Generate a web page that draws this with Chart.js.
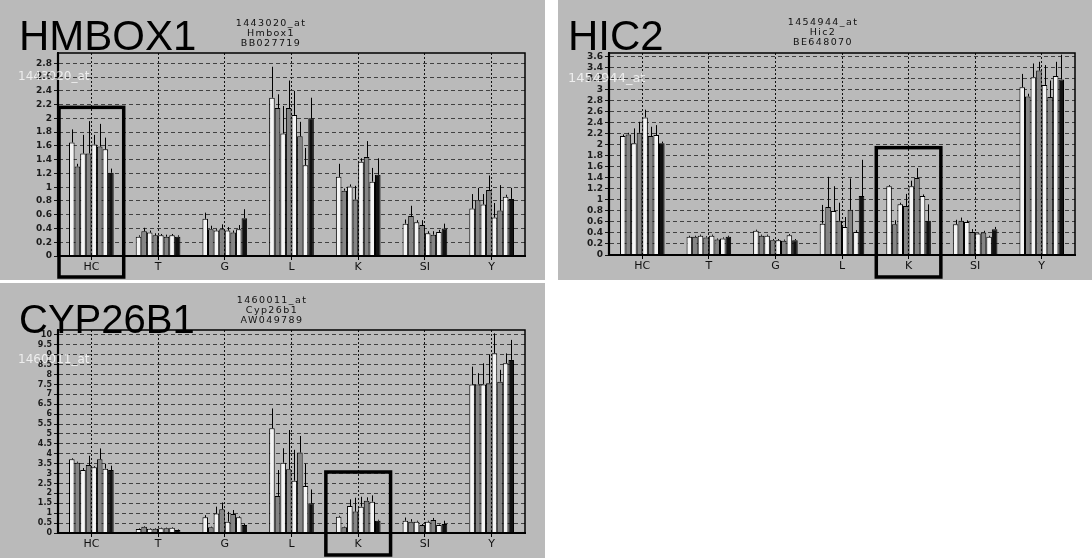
<!DOCTYPE html>
<html><head><meta charset="utf-8">
<script src="https://cdn.jsdelivr.net/npm/chart.js@4.4.1/dist/chart.umd.min.js"></script>
<style>
html,body{margin:0;padding:0;background:#fff;}
#wrap{position:relative;width:1092px;height:558px;overflow:hidden;background:#fff;}
.panel{position:absolute;background:#bababa;}
.panel canvas{position:absolute;left:0;top:0;}
.big{position:absolute;font-family:'Liberation Sans',Arial,sans-serif;font-size:42px;line-height:42px;color:#000;white-space:nowrap;}
.ttl{position:absolute;font-family:'DejaVu Sans',sans-serif;font-size:9.5px;line-height:10px;letter-spacing:1.4px;color:#111;text-align:center;white-space:nowrap;transform:translateX(-50%);}
.ghost{position:absolute;font-family:'DejaVu Sans',sans-serif;font-size:12px;color:rgba(255,255,255,0.75);white-space:nowrap;}
</style>
</head><body>
<div id="wrap">
  <div class="panel" id="p1" style="left:0;top:0;width:545px;height:280px;"><canvas id="c1" width="545" height="280"></canvas></div>
  <div class="panel" id="p2" style="left:558px;top:0;width:534px;height:280px;"><canvas id="c2" width="534" height="280"></canvas></div>
  <div class="panel" id="p3" style="left:0;top:283px;width:545px;height:275px;"><canvas id="c3" width="545" height="275"></canvas></div>

  <div class="ghost" style="left:18px;top:69px;">1443020_at</div>
  <div class="ghost" style="left:568px;top:70px;font-size:13px;">1454944_at</div>
  <div class="ghost" style="left:18px;top:352px;">1460011_at</div>

  <div class="big" style="left:19px;top:15px;">HMBOX1</div>
  <div class="big" style="left:568px;top:15px;">HIC2</div>
  <div class="big" style="left:19px;top:299px;font-size:40px;line-height:40px;">CYP26B1</div>

  <div class="ttl" style="left:271px;top:18px;">1443020_at<br>Hmbox1<br>BB027719</div>
  <div class="ttl" style="left:823px;top:17px;">1454944_at<br>Hic2<br>BE648070</div>
  <div class="ttl" style="left:272px;top:295px;">1460011_at<br>Cyp26b1<br>AW049789</div>
</div>
<script>
// ---------- data ----------
const categories = ['HC', 'T', 'G', 'L', 'K', 'SI', 'Y'];
const seriesColors = ['#f4f4f4', '#858585', '#f4f4f4', '#858585', '#f4f4f4', '#858585', '#f4f4f4', '#111111'];

// HMBOX1 (1443020_at): means per category (8 bars each), and error bar lengths
const hmbox1Means = [
  [1.65, 1.30, 1.49, 1.49, 1.62, 1.59, 1.55, 1.21],
  [0.28, 0.36, 0.34, 0.30, 0.30, 0.28, 0.30, 0.28],
  [0.54, 0.39, 0.37, 0.39, 0.37, 0.34, 0.39, 0.55],
  [2.30, 2.15, 1.78, 2.15, 2.05, 1.74, 1.32, 2.00],
  [1.15, 0.95, 1.01, 0.82, 1.37, 1.44, 1.08, 1.18],
  [0.47, 0.58, 0.49, 0.45, 0.33, 0.31, 0.35, 0.40],
  [0.69, 0.81, 0.75, 0.96, 0.56, 0.66, 0.86, 0.83]
];
const hmbox1Errs = [
  [0.19, 0.04, 0.27, 0.47, 0.14, 0.33, 0.17, 0.06],
  [0.02, 0.05, 0.03, 0.03, 0.02, 0.03, 0.02, 0.02],
  [0.09, 0.05, 0.02, 0.07, 0.05, 0.03, 0.06, 0.13],
  [0.45, 0.20, 0.40, 0.40, 0.35, 0.21, 0.25, 0.30],
  [0.19, 0.03, 0.03, 0.20, 0.05, 0.23, 0.20, 0.24],
  [0.06, 0.15, 0.03, 0.07, 0.03, 0.05, 0.03, 0.07],
  [0.21, 0.18, 0.15, 0.21, 0.21, 0.37, 0.03, 0.16]
];
const hmbox1Ticks = [0, 0.2, 0.4, 0.6, 0.8, 1, 1.2, 1.4, 1.6, 1.8, 2, 2.2, 2.4, 2.6, 2.8];

// HIC2 (1454944_at)
const hic2Means = [
  [2.16, 2.19, 2.03, 2.22, 2.50, 2.16, 2.18, 2.03],
  [0.33, 0.33, 0.35, 0.32, 0.35, 0.28, 0.30, 0.33],
  [0.44, 0.35, 0.35, 0.27, 0.27, 0.26, 0.36, 0.27],
  [0.57, 0.87, 0.80, 0.62, 0.51, 0.82, 0.42, 1.07],
  [1.25, 0.56, 0.92, 0.89, 1.25, 1.40, 1.07, 0.62],
  [0.56, 0.62, 0.60, 0.42, 0.39, 0.41, 0.33, 0.47],
  [3.05, 2.88, 3.23, 3.35, 3.09, 2.87, 3.25, 3.19]
];
const hic2Errs = [
  [0.03, 0.03, 0.27, 0.20, 0.14, 0.17, 0.18, 0.03],
  [0.02, 0.02, 0.02, 0.02, 0.02, 0.02, 0.02, 0.02],
  [0.02, 0.02, 0.02, 0.02, 0.02, 0.02, 0.02, 0.02],
  [0.34, 0.55, 0.45, 0.33, 0.18, 0.57, 0.03, 0.66],
  [0.02, 0.07, 0.03, 0.22, 0.10, 0.18, 0.03, 0.30],
  [0.08, 0.06, 0.03, 0.05, 0.02, 0.03, 0.02, 0.04],
  [0.24, 0.05, 0.25, 0.16, 0.36, 0.30, 0.26, 0.45]
];
const hic2Ticks = [0, 0.2, 0.4, 0.6, 0.8, 1, 1.2, 1.4, 1.6, 1.8, 2, 2.2, 2.4, 2.6, 2.8, 3, 3.2, 3.4, 3.6];

// CYP26B1 (1460011_at)
const cyp26b1Means = [
  [3.72, 3.55, 3.18, 3.43, 3.32, 3.72, 3.25, 3.18],
  [0.20, 0.32, 0.22, 0.22, 0.24, 0.24, 0.26, 0.15],
  [0.79, 0.29, 0.99, 1.20, 0.57, 0.96, 0.79, 0.40],
  [5.29, 1.87, 3.55, 3.22, 2.64, 4.06, 2.37, 1.50],
  [0.82, 0.29, 1.36, 1.08, 1.33, 1.63, 1.58, 0.62],
  [0.62, 0.57, 0.57, 0.40, 0.57, 0.66, 0.40, 0.45],
  [7.50, 7.50, 7.50, 7.56, 9.07, 7.64, 8.57, 8.74]
];
const cyp26b1Errs = [
  [0.05, 0.05, 0.10, 0.47, 0.05, 0.55, 0.25, 0.22],
  [0.03, 0.03, 0.03, 0.03, 0.03, 0.03, 0.03, 0.03],
  [0.11, 0.03, 0.34, 0.34, 0.50, 0.20, 0.05, 0.05],
  [1.00, 1.31, 0.73, 1.98, 1.56, 0.84, 1.13, 0.70],
  [0.05, 0.03, 0.34, 0.70, 0.50, 0.17, 0.32, 0.05],
  [0.16, 0.13, 0.05, 0.05, 0.05, 0.10, 0.03, 0.17],
  [0.90, 0.57, 1.07, 1.44, 1.01, 0.60, 0.50, 1.01]
];
const cyp26b1Ticks = [0, 0.5, 1, 1.5, 2, 2.5, 3, 3.5, 4, 4.5, 5, 5.5, 6, 6.5, 7, 7.5, 8, 8.5, 9, 9.5, 10];

// ---------- plugins ----------
const decor = {
  id: 'decor',
  afterDatasetsDraw(chart, args, opts) {
    const ctx = chart.ctx, y = chart.scales.y, x = chart.scales.x, a = chart.chartArea;
    const errs = opts.errs;
    ctx.save();
    // error bars
    ctx.strokeStyle = '#000'; ctx.lineWidth = 1;
    chart.data.datasets.forEach((ds, i) => {
      const meta = chart.getDatasetMeta(i);
      meta.data.forEach((el, j) => {
        const top = y.getPixelForValue(ds.data[j] + errs[j][i]);
        const px = Math.round(el.x) + 0.5;
        ctx.beginPath(); ctx.moveTo(px, el.y); ctx.lineTo(px, top); ctx.stroke();
      });
    });
    // plot frame
    ctx.lineWidth = 1.5;
    ctx.strokeRect(a.left, a.top, a.right - a.left, a.bottom - a.top);
    ctx.lineWidth = 2.2;
    ctx.beginPath(); ctx.moveTo(a.left, a.bottom); ctx.lineTo(a.right, a.bottom); ctx.stroke();
    ctx.beginPath(); ctx.moveTo(a.left, a.top); ctx.lineTo(a.left, a.bottom); ctx.stroke();
    // highlight box around one category
    const cw = (a.right - a.left) / categories.length;
    const cx = x.getPixelForValue(opts.boxIndex);
    const bt = y.getPixelForValue(opts.boxTop);
    ctx.lineWidth = 3.5;
    ctx.strokeRect(cx - cw / 2 + 1, bt, cw - 2, chart.height - 3 - bt);
    ctx.restore();
  }
};

function fmt(v) { return String(Number(v.toFixed(1))); }

function makeChart(id, means, errs, ticks, ymax, yW, xH, pad, tickFont, boxIndex, boxTop) {
  const datasets = seriesColors.map((c, i) => ({
    data: means.map(row => row[i]),
    backgroundColor: c,
    borderColor: '#000',
    borderWidth: 1,
    barPercentage: 1.0,
    categoryPercentage: 0.67
  }));
  return new Chart(document.getElementById(id), {
    type: 'bar',
    data: { labels: categories, datasets },
    options: {
      responsive: false, animation: false, devicePixelRatio: 1,
      layout: { padding: pad },
      plugins: { legend: { display: false }, tooltip: { enabled: false },
                 decor: { errs, boxIndex, boxTop } },
      scales: {
        x: {
          offset: true,
          grid: { offset: false, color: '#111', lineWidth: 1, tickLength: 4, drawTicks: true, tickColor: '#000' },
          border: { display: true, color: '#000', width: 2, dash: [2, 2] },
          ticks: { color: '#111', font: { family: 'DejaVu Sans', size: 11 }, padding: 1, maxRotation: 0, autoSkip: false },
          afterFit(s) { s.height = xH; }
        },
        y: {
          min: 0, max: ymax,
          afterBuildTicks(s) { s.ticks = ticks.map(v => ({ value: v })); },
          grid: { color: '#333', lineWidth: 0.9, tickLength: 4, tickColor: '#000' },
          border: { display: true, color: '#000', width: 2, dash: [4, 3] },
          ticks: { color: '#1a1a1a', font: { family: 'DejaVu Sans', size: tickFont, weight: 'bold' }, padding: 2,
                   autoSkip: false, callback: v => fmt(v) },
          afterFit(s) { s.width = yW; }
        }
      }
    },
    plugins: [decor]
  });
}

makeChart('c1', hmbox1Means, hmbox1Errs, hmbox1Ticks, 2.95, 58, 24, { left: 0, top: 53, right: 20, bottom: 0 }, 9, 0, 2.16);
makeChart('c2', hic2Means, hic2Errs, hic2Ticks, 3.67, 51, 25, { left: 0, top: 53, right: 17, bottom: 0 }, 9, 4, 1.95);
makeChart('c3', cyp26b1Means, cyp26b1Errs, cyp26b1Ticks, 10.25, 58, 25, { left: 0, top: 47, right: 20, bottom: 0 }, 8, 4, 3.08);
</script>
</body></html>
